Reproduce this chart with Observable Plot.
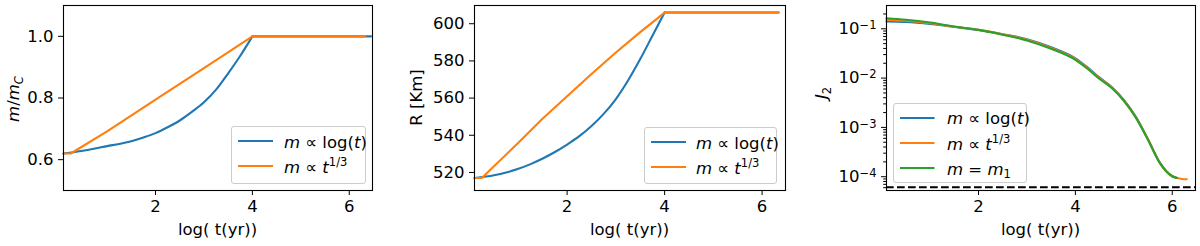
<!DOCTYPE html>
<html><head><meta charset="utf-8">
<script src="https://cdn.jsdelivr.net/npm/d3@7"></script>
<script src="https://cdn.jsdelivr.net/npm/@observablehq/plot@0.6"></script>
<style>
body{margin:0;background:#fff;font-family:"DejaVu Sans",sans-serif;}
#wrap{position:relative;width:1200px;height:246px;overflow:hidden;background:#fff;}
.lg{position:absolute;border:1px solid #cccccc;border-radius:3px;background:rgba(255,255,255,0.8);box-sizing:border-box;}
.lg svg{position:absolute;overflow:visible;}
.lg span.t{position:absolute;font-size:16.5px;line-height:20px;white-space:nowrap;color:#000;}
.sp{font-size:11.5px;position:relative;top:-7px;}
.sb{font-size:11.5px;position:relative;top:3px;}
</style></head><body><div id="wrap"></div><script>
// ---------- data ----------
const xTicks = [2, 4, 6];
// panel 1 : m/m_C
const tBlueM   = [0.1, 0.5, 0.75, 1.0, 1.25, 1.5, 1.75, 2.0, 2.25, 2.5, 2.75, 3.0, 3.25, 3.5, 3.75, 4.0, 6.45];
const mBlue    = [0.620, 0.629, 0.636, 0.644, 0.651, 0.660, 0.672, 0.686, 0.705, 0.727, 0.755, 0.786, 0.827, 0.880, 0.937, 1.0, 1.0];
const tOrangeM = [0.1, 0.25, 1.0, 2.0, 3.0, 4.0, 6.33];
const mOrange  = [0.62, 0.62, 0.692, 0.795, 0.897, 1.0, 1.0];
const mTicks   = [0.6, 0.8, 1.0];
// panel 2 : R [Km]
const tBlueR   = [0.1, 0.5, 0.75, 1.0, 1.25, 1.5, 1.75, 2.0, 2.25, 2.5, 2.75, 3.0, 3.25, 3.5, 3.75, 4.0, 6.34];
const rBlue    = [517, 518.5, 520, 522, 524.5, 527.5, 531, 535, 539.5, 545, 551.5, 559.5, 569.5, 581, 593.5, 606, 606];
const tOrangeR = [0.1, 0.25, 1.0, 1.5, 2.0, 2.5, 3.0, 3.5, 4.0, 6.34];
const rOrange  = [517, 517, 536, 549, 561, 573, 584.5, 595.5, 606, 606];
const rTicks   = [520, 540, 560, 580, 600];
// panel 3 : J2
const tJ2      = [0.1, 0.5, 1.0, 1.5, 2.0, 2.5, 3.0, 3.5, 4.0, 4.25, 4.5, 4.75, 5.0, 5.25, 5.5, 5.75, 6.0, 6.1];
const j2Blue   = [0.1406, 0.137, 0.125, 0.109, 0.0946, 0.0774, 0.0615, 0.0422, 0.0252, 0.0165, 0.0102, 0.0066, 0.0036, 0.00162, 0.00057, 0.000188, 0.000102, 0.000094];
const tJ2Orange= [0.1, 0.5, 1.0, 1.5, 2.0, 2.5, 3.0, 3.5, 4.0, 4.25, 4.5, 4.75, 5.0, 5.25, 5.5, 5.75, 6.0, 6.1, 6.2, 6.3];
const j2Orange = [0.152, 0.146, 0.130, 0.110, 0.095, 0.077, 0.060, 0.0408, 0.0243, 0.016, 0.0099, 0.0065, 0.00355, 0.0016, 0.00057, 0.000187, 0.000102, 0.000094, 0.000090, 0.000089];
const j2Green  = [0.164, 0.153, 0.134, 0.111, 0.095, 0.076, 0.058, 0.0394, 0.0235, 0.0155, 0.0096, 0.0063, 0.00347, 0.00158, 0.00056, 0.000186, 0.000102, 0.000094];
const j2Limit  = [6.1e-5];
const j2Ticks  = [1e-1, 1e-2, 1e-3, 1e-4];
const j2Minor  = [6e-5,7e-5,8e-5,9e-5,2e-4,3e-4,4e-4,5e-4,6e-4,7e-4,8e-4,9e-4,2e-3,3e-3,4e-3,5e-3,6e-3,7e-3,8e-3,9e-3,2e-2,3e-2,4e-2,5e-2,6e-2,7e-2,8e-2,9e-2,2e-1];

const C = {blue:"#1f77b4", orange:"#ff7f0e", green:"#2ca02c"};
const rows = (xs, ys) => xs.map((x, i) => ({x, y: ys[i]}));
const wrap = document.getElementById("wrap");
const LW = 2.1;
const FS = 16.5;

// rising part (smooth for blue), plateau straight
function growth(xs, ys, color, curve) {
  const d = rows(xs, ys);
  return [
    Plot.line(d.filter(p => p.x <= 4), {x: "x", y: "y", stroke: color, strokeWidth: LW, curve}),
    Plot.line(d.filter(p => p.x >= 4), {x: "x", y: "y", stroke: color, strokeWidth: LW})
  ];
}

function makePanel(o) {
  const svg = Plot.plot({
    width: 400, height: 246,
    marginLeft: o.ml, marginRight: o.mr, marginTop: 5, marginBottom: 56,
    style: {background: "transparent", fontFamily: "DejaVu Sans", fontSize: FS + "px", color: "black", overflow: "visible"},
    x: {domain: [0.1, 6.48]},
    y: o.y,
    marks: [
      ...o.marks,
      Plot.axisX({ticks: xTicks, tickSize: 5, tickPadding: 5, label: null, tickFormat: d => String(d)}),
      Plot.axisY({ticks: o.yTicks, tickSize: 5, tickPadding: 5, label: null, tickFormat: o.yFormat}),
      ...(o.extraAxes || []),
      Plot.frame({stroke: "black", strokeWidth: 1.1})
    ]
  });
  svg.style.position = "absolute";
  svg.style.left = o.left + "px";
  svg.style.top = "0px";
  wrap.appendChild(svg);
  const s = d3.select(svg);
  const fx = o.ml + (400 - o.ml - o.mr) / 2;
  s.append("text").attr("x", fx).attr("y", 235).attr("text-anchor", "middle")
    .attr("font-size", FS).attr("font-family", "DejaVu Sans").text("log( t(yr))");
  const yl = s.append("text").attr("transform", `translate(${o.ylx},${o.yly}) rotate(-90)`)
    .attr("text-anchor", "middle").attr("font-size", FS).attr("font-family", "DejaVu Sans");
  o.ylabel(yl);
  return svg;
}

function legend(o) {
  const d = document.createElement("div");
  d.className = "lg";
  Object.assign(d.style, {left: o.left + "px", top: o.top + "px", width: o.w + "px", height: o.h + "px"});
  o.items.forEach((it, i) => {
    const y = o.y0 + i * 25.3;
    const sv = d3.create("svg").attr("width", o.len).attr("height", 4)
      .style("left", o.hx + "px").style("top", (y - 2) + "px");
    sv.append("line").attr("x1", 0).attr("x2", o.len).attr("y1", 2).attr("y2", 2)
      .attr("stroke", it.c).attr("stroke-width", LW);
    d.appendChild(sv.node());
    const sp = document.createElement("span");
    sp.className = "t";
    sp.style.left = o.tx + "px";
    sp.style.top = (y - 8.5) + "px";
    sp.innerHTML = it.html;
    d.appendChild(sp);
  });
  wrap.appendChild(d);
}

const L1 = '<i>m</i> ∝ log(<i>t</i>)';
const L2 = '<i>m</i> ∝ <i>t</i><span class="sp">1/3</span>';
const L3 = '<i>m</i> = <i>m</i><span class="sb">1</span>';

// Panel 1
makePanel({
  left: 0, ml: 63, mr: 28,
  y: {domain: [0.5, 1.1]}, yTicks: mTicks, yFormat: d3.format(".1f"),
  marks: [...growth(tBlueM, mBlue, C.blue, "monotone-x"), ...growth(tOrangeM, mOrange, C.orange, "linear")],
  ylx: 19, yly: 99,
  ylabel: t => {
    t.append("tspan").attr("font-style", "italic").text("m");
    t.append("tspan").text("/");
    t.append("tspan").attr("font-style", "italic").text("m");
    t.append("tspan").attr("font-style", "italic").attr("font-size", 11.5).attr("dy", 3.5).text("C");
  }
});
legend({left: 231, top: 126, w: 135, h: 58, hx: 5.5, len: 35, tx: 52, y0: 14, items: [
  {c: C.blue, html: L1}, {c: C.orange, html: L2}]});

// Panel 2
makePanel({
  left: 400, ml: 74, mr: 15,
  y: {domain: [510.3, 609.8]}, yTicks: rTicks, yFormat: d => String(d),
  marks: [...growth(tBlueR, rBlue, C.blue, "monotone-x"), ...growth(tOrangeR, rOrange, C.orange, "linear")],
  ylx: 22, yly: 97.5,
  ylabel: t => { t.text("R [Km]"); }
});
legend({left: 644, top: 126.5, w: 133, h: 57, hx: 5.5, len: 35, tx: 51, y0: 14.5, items: [
  {c: C.blue, html: L1}, {c: C.orange, html: L2}]});

// Panel 3
const p3 = makePanel({
  left: 800, ml: 86, mr: 5,
  y: {type: "log", domain: [5.25e-5, 0.297]}, yTicks: j2Ticks,
  yFormat: d => "10^" + Math.round(Math.log10(d)),
  extraAxes: [Plot.axisY({ticks: j2Minor, tickSize: 2.8, tickFormat: () => "", label: null})],
  marks: [
    Plot.ruleY(j2Limit, {stroke: "black", strokeWidth: LW, strokeDasharray: "7.7,3.3"}),
    Plot.line(rows(tJ2, j2Blue), {x: "x", y: "y", stroke: C.blue, strokeWidth: LW, curve: "monotone-x"}),
    Plot.line(rows(tJ2Orange, j2Orange), {x: "x", y: "y", stroke: C.orange, strokeWidth: LW, curve: "monotone-x"}),
    Plot.line(rows(tJ2, j2Green), {x: "x", y: "y", stroke: C.green, strokeWidth: LW, curve: "monotone-x"})
  ],
  ylx: 27, yly: 93,
  ylabel: t => {
    t.append("tspan").attr("font-style", "italic").text("J");
    t.append("tspan").attr("font-size", 11.5).attr("dy", 3.5).text("2");
  }
});
d3.select(p3).selectAll('g[aria-label="y-axis tick label"] text').each(function () {
  const el = d3.select(this);
  const s = el.text();
  if (s.startsWith("10^")) {
    const e = s.slice(3).replace("-", "−");
    el.text("10");
    el.append("tspan").attr("dy", "-0.45em").attr("font-size", 11.5).text(e);
  }
});
legend({left: 893, top: 103, w: 134, h: 80, hx: 6, len: 34.5, tx: 53, y0: 13.7, items: [
  {c: C.blue, html: L1}, {c: C.orange, html: L2}, {c: C.green, html: L3}]});
</script></body></html>
